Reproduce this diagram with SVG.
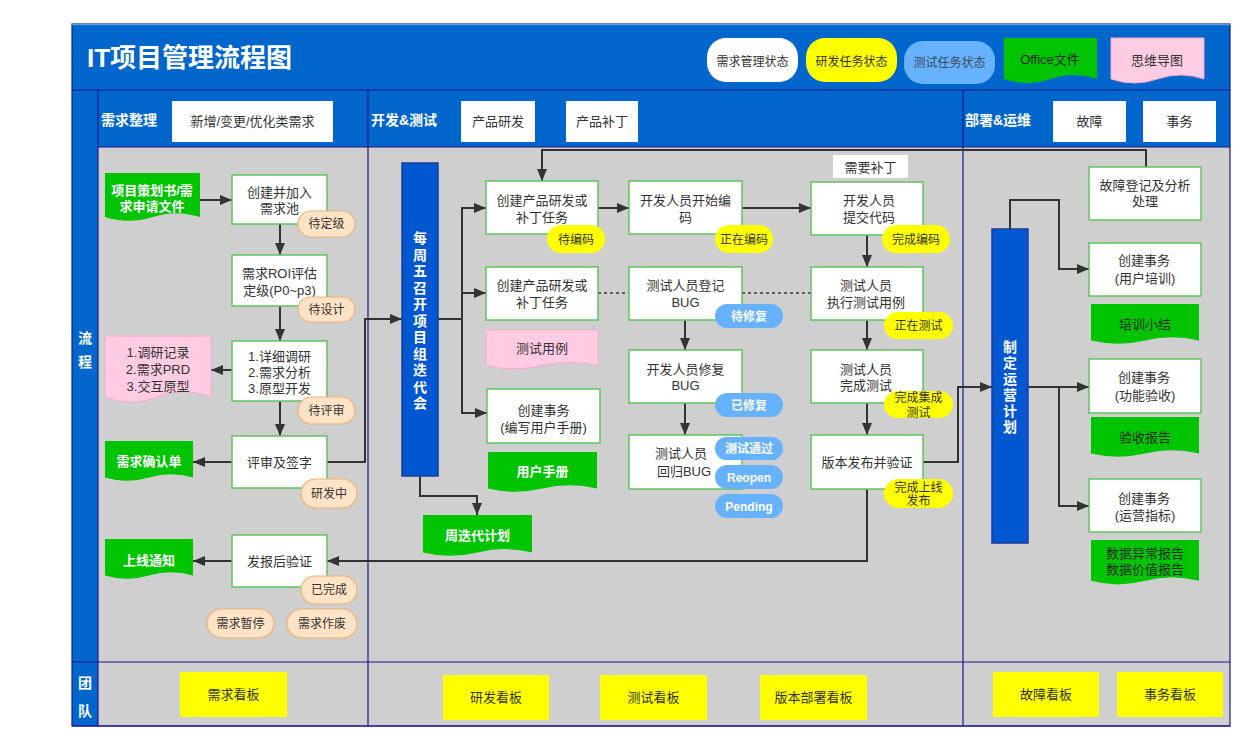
<svg xmlns="http://www.w3.org/2000/svg" width="1254" height="752" viewBox="0 0 1254 752">
<defs>
<style>
text{font-family:"Liberation Sans","Noto Sans CJK SC",sans-serif;}
.t{font-size:13px;fill:#333;text-anchor:middle}
.tw{font-size:13px;fill:#fff;font-weight:bold;text-anchor:middle}
.td{font-size:13px;fill:#1e2a1e;text-anchor:middle}
.bt{font-size:12px;fill:#333;text-anchor:middle}
.btw{font-size:12px;fill:#fff;font-weight:bold;text-anchor:middle}
.box{fill:#fff;stroke:#62C462;stroke-width:1.5}
.bo{fill:#FFE3C6;stroke:#EBB37C;stroke-width:1.2}
.by{fill:#FFFF00}
.bb{fill:#66B2FF}
.dg{fill:#00C400}
.dp{fill:#FFCCE3;stroke:#F2AACB;stroke-width:1}
.bar{fill:#0057CF;stroke:#1B3C9E;stroke-width:1.5}
.hb{fill:#fff}
.kb{fill:#FFFF00}
.c{fill:none;stroke:#333;stroke-width:2;marker-end:url(#ah)}
.cn{fill:none;stroke:#333;stroke-width:2}
.cd{fill:none;stroke:#333;stroke-width:1.6;stroke-dasharray:3 3}
.ln{stroke:#1A1A8C;stroke-width:1.2;fill:none}
.lbl{font-size:14px;font-weight:bold;fill:#fff}
.vt{font-size:14px;font-weight:bold;fill:#fff;text-anchor:middle}
</style>
<marker id="ah" markerUnits="userSpaceOnUse" markerWidth="12" markerHeight="10" refX="12" refY="5" orient="auto"><path d="M0,0 L12,5 L0,10 Z" fill="#333"/></marker>
</defs>
<rect width="1254" height="752" fill="#fff"/>
<g id="frame">
<rect x="72" y="24" width="1158" height="123" fill="#0066CC"/>
<rect x="72" y="147" width="26" height="579" fill="#0066CC"/>
<rect x="98" y="147" width="1132" height="579" fill="#CFCFCF"/>
<path class="ln" d="M72,90 H1230 M98,147 H1230 M72,662 H1230 M98,90 V726 M368,90 V726 M963,90 V726 M72,726 H1230"/>
<rect x="72" y="24" width="1158" height="702" fill="none" stroke="#1A1A8C" stroke-width="1.2"/>
<path d="M72,24.5 H1230" stroke="#5A9BE8" stroke-width="1.5"/>
<text x="87" y="67" font-size="26" font-weight="bold" fill="#fff">IT项目管理流程图</text>
<text class="vt" x="85" y="343">流</text>
<text class="vt" x="85" y="367">程</text>
<text class="vt" x="85" y="688">团</text>
<text class="vt" x="85" y="716">队</text>
</g>
<g id="legend">
<rect x="707" y="38" width="91" height="44" rx="19" fill="#fff"/>
<text class="bt" x="752.5" y="66">需求管理状态</text>
<rect x="806" y="38" width="91" height="44" rx="19" fill="#FFFF00"/>
<text class="bt" x="851.5" y="66">研发任务状态</text>
<rect x="904" y="41" width="91" height="43" rx="19" fill="#66B2FF"/>
<text class="bt" x="949.5" y="67" style="fill:#3C4A5A">测试任务状态</text>
<path class="dg" d="M1004,38 H1097 V79 Q1073.75,71 1050.5,79 T1004,79 Z"/>
<text class="td" x="1050" y="64">Office文件</text>
<path class="dp" d="M1111,38 H1204 V79 Q1180.75,71 1157.5,79 T1111,79 Z"/>
<text class="t" x="1157" y="65">思维导图</text>
</g>
<g id="lane-headers">
<text class="lbl" x="101" y="125">需求整理</text>
<rect class="hb" x="172" y="101" width="161" height="41"/>
<text class="t" x="252.5" y="126">新增/变更/优化类需求</text>
<text class="lbl" x="371" y="125">开发&amp;测试</text>
<rect class="hb" x="461" y="101" width="74" height="41"/>
<text class="t" x="498" y="126">产品研发</text>
<rect class="hb" x="566" y="101" width="72" height="41"/>
<text class="t" x="602" y="126">产品补丁</text>
<text class="lbl" x="965" y="125">部署&amp;运维</text>
<rect class="hb" x="1053" y="101" width="73" height="41"/>
<text class="t" x="1089.5" y="126">故障</text>
<rect class="hb" x="1143" y="101" width="73" height="41"/>
<text class="t" x="1179.5" y="126">事务</text>
</g>
<g id="connectors">
<path class="c" d="M200,200 H232"/>
<path class="c" d="M280,224 V255"/>
<path class="c" d="M280,306 V341"/>
<path class="c" d="M232,370 H211"/>
<path class="c" d="M280,401 V436"/>
<path class="c" d="M232,462 H193"/>
<path class="c" d="M327,462 H365 V319 H402"/>
<path class="c" d="M232,561 H193"/>
<path class="c" d="M867,489 V561 H327"/>
<path class="cn" d="M438,319 H462"/>
<path class="c" d="M462,319 V208 H486"/>
<path class="c" d="M462,293 H486"/>
<path class="c" d="M462,319 V413 H487"/>
<path class="c" d="M420,476 V496 H477 V515"/>
<path class="c" d="M1146,167 V150 H542 V181"/>
<path class="c" d="M598,208 H629"/>
<path class="c" d="M742,208 H811"/>
<path class="c" d="M867,235 V267"/>
<path class="c" d="M867,320 V350"/>
<path class="c" d="M867,403 V435"/>
<path class="c" d="M685,320 V350"/>
<path class="c" d="M685,403 V435"/>
<path class="cd" d="M598,293 H629 M742,293 H811"/>
<path class="c" d="M923,462 H958 V387 H992"/>
<path class="c" d="M1010,229 V200 H1059 V269 H1089"/>
<path class="c" d="M1028,387 H1089"/>
<path class="c" d="M1059,387 V506 H1089"/>
</g>
<g id="n-plan-doc">
<path class="dg" d="M105,173 H200 V217 Q176.25,209.4 152.5,217 T105,217 Z"/>
<text class="tw" x="152" y="195">项目策划书/需</text>
<text class="tw" x="152" y="211">求申请文件</text>
</g>
<g id="n-pool">
<rect class="box" x="232" y="175" width="95" height="49"/>
<text class="t" x="279.5" y="197">创建并加入</text>
<text class="t" x="279.5" y="213">需求池</text>
</g>
<g id="s-dingji"><rect class="bo" x="298" y="211" width="57" height="26" rx="13"/><text class="bt" x="326.5" y="228">待定级</text></g>
<g id="n-roi">
<rect class="box" x="232" y="255" width="95" height="51"/>
<text class="t" x="279.5" y="278">需求ROI评估</text>
<text class="t" x="279.5" y="295">定级(P0~p3)</text>
</g>
<g id="s-sheji"><rect class="bo" x="298" y="297" width="57" height="25" rx="12.5"/><text class="bt" x="326.5" y="313.5">待设计</text></g>
<g id="n-research">
<rect class="box" x="232" y="341" width="95" height="60"/>
<text class="t" x="279.5" y="361">1.详细调研</text>
<text class="t" x="279.5" y="377">2.需求分析</text>
<text class="t" x="279.5" y="393">3.原型开发</text>
</g>
<g id="n-research-doc">
<path class="dp" d="M105,336 H211 V397 Q184.5,386.4 158,397 T105,397 Z"/>
<text class="t" x="158" y="357">1.调研记录</text>
<text class="t" x="158" y="374">2.需求PRD</text>
<text class="t" x="158" y="390.5">3.交互原型</text>
</g>
<g id="s-pingshen"><rect class="bo" x="298" y="397" width="57" height="27" rx="13.5"/><text class="bt" x="326.5" y="415">待评审</text></g>
<g id="n-review">
<rect class="box" x="232" y="436" width="95" height="52"/>
<text class="t" x="279.5" y="467">评审及签字</text>
</g>
<g id="n-confirm-doc">
<path class="dg" d="M105,441 H193 V477.5 Q171,471 149,477.5 T105,477.5 Z"/>
<text class="tw" x="149" y="466">需求确认单</text>
</g>
<g id="s-yanfazhong"><rect class="bo" x="301" y="479" width="56" height="29" rx="14.5"/><text class="bt" x="329" y="497.5">研发中</text></g>
<g id="n-verify">
<rect class="box" x="232" y="535" width="95" height="52"/>
<text class="t" x="279.5" y="566">发报后验证</text>
</g>
<g id="n-online-doc">
<path class="dg" d="M105,539 H193 V575.5 Q171,569 149,575.5 T105,575.5 Z"/>
<text class="tw" x="149" y="564.5">上线通知</text>
</g>
<g id="s-done"><rect class="bo" x="301" y="576" width="56" height="28" rx="14"/><text class="bt" x="329" y="594">已完成</text></g>
<g id="s-pause"><rect class="bo" x="207" y="609" width="67" height="29" rx="14.5"/><text class="bt" x="240.5" y="628">需求暂停</text></g>
<g id="s-abandon"><rect class="bo" x="287" y="609" width="70" height="29" rx="14.5"/><text class="bt" x="322" y="628">需求作废</text></g>
<g id="n-iteration-bar">
<rect class="bar" x="402" y="163" width="36" height="313"/>
<text class="vt">
<tspan x="420" y="243">每</tspan><tspan x="420" y="259.5">周</tspan><tspan x="420" y="276">五</tspan><tspan x="420" y="292.5">召</tspan><tspan x="420" y="309">开</tspan><tspan x="420" y="325.5">项</tspan><tspan x="420" y="342">目</tspan><tspan x="420" y="358.5">组</tspan><tspan x="420" y="375">迭</tspan><tspan x="420" y="391.5">代</tspan><tspan x="420" y="408">会</tspan>
</text>
</g>
<g id="n-task1">
<rect class="box" x="486" y="181" width="112" height="53"/>
<text class="t" x="542" y="205">创建产品研发或</text>
<text class="t" x="542" y="222">补丁任务</text>
</g>
<g id="s-daibianma"><rect class="by" x="547" y="225" width="58" height="28" rx="14"/><text class="bt" x="576" y="243.5">待编码</text></g>
<g id="n-task2">
<rect class="box" x="486" y="267" width="112" height="53"/>
<text class="t" x="542" y="290">创建产品研发或</text>
<text class="t" x="542" y="307">补丁任务</text>
</g>
<g id="n-testcase-doc">
<path class="dp" d="M486,330 H598 V365.7 Q570,359.4 542,365.7 T486,365.7 Z"/>
<text class="t" x="542" y="352.5">测试用例</text>
</g>
<g id="n-manual">
<rect class="box" x="487" y="389" width="113" height="54"/>
<text class="t" x="543.5" y="414.5">创建事务</text>
<text class="t" x="543.5" y="432">(编写用户手册)</text>
</g>
<g id="n-manual-doc">
<path class="dg" d="M488,452 H597 V488.5 Q569.75,482.1 542.5,488.5 T488,488.5 Z"/>
<text class="tw" x="542.5" y="475.5">用户手册</text>
</g>
<g id="n-weekly-doc">
<path class="dg" d="M423,515 H532 V552.4 Q504.75,545.8 477.5,552.4 T423,552.4 Z"/>
<text class="tw" x="477.5" y="539.5">周迭代计划</text>
</g>
<g id="n-coding">
<rect class="box" x="629" y="181" width="113" height="53"/>
<text class="t" x="685.5" y="205">开发人员开始编</text>
<text class="t" x="685.5" y="222">码</text>
</g>
<g id="s-zaibianma"><rect class="by" x="715" y="225" width="58" height="28" rx="14"/><text class="bt" x="744" y="243.5">正在编码</text></g>
<g id="n-submit">
<rect class="box" x="811" y="182" width="112" height="53"/>
<text class="t" x="869" y="205">开发人员</text>
<text class="t" x="869" y="222">提交代码</text>
</g>
<g id="s-wanchengbianma"><rect class="by" x="882" y="225" width="68" height="28" rx="14"/><text class="bt" x="916" y="243.5">完成编码</text></g>
<g id="l-patch"><rect class="hb" x="833" y="155" width="75" height="23"/><text class="t" x="870.5" y="171.5">需要补丁</text></g>
<g id="n-bug-log">
<rect class="box" x="629" y="267" width="113" height="53"/>
<text class="t" x="685.5" y="290">测试人员登记</text>
<text class="t" x="685.5" y="307">BUG</text>
</g>
<g id="s-daixiufu"><rect class="bb" x="715" y="304" width="68" height="24" rx="12"/><text class="btw" x="749" y="320.5">待修复</text></g>
<g id="n-exec-test">
<rect class="box" x="811" y="267" width="112" height="53"/>
<text class="t" x="866" y="290">测试人员</text>
<text class="t" x="866" y="307">执行测试用例</text>
</g>
<g id="s-zaiceshi"><rect class="by" x="884" y="312" width="69" height="27" rx="13.5"/><text class="bt" x="918.5" y="330">正在测试</text></g>
<g id="n-bug-fix">
<rect class="box" x="629" y="350" width="113" height="53"/>
<text class="t" x="685.5" y="373.5">开发人员修复</text>
<text class="t" x="685.5" y="390">BUG</text>
</g>
<g id="s-yixiufu"><rect class="bb" x="715" y="393" width="68" height="24" rx="12"/><text class="btw" x="749" y="409.5">已修复</text></g>
<g id="n-test-done">
<rect class="box" x="811" y="350" width="112" height="53"/>
<text class="t" x="866" y="373.5">测试人员</text>
<text class="t" x="866" y="390">完成测试</text>
</g>
<g id="s-jicheng"><rect class="by" x="884" y="391" width="69" height="27" rx="13.5"/><text class="bt" x="918.5" y="402">完成集成</text><text class="bt" x="918.5" y="417">测试</text></g>
<g id="n-regress">
<rect class="box" x="629" y="435" width="113" height="54"/>
<text class="t" x="681" y="457.5">测试人员</text>
<text class="t" x="684" y="475.5">回归BUG</text>
</g>
<g id="s-pass"><rect class="bb" x="715" y="437" width="68" height="23" rx="11.5"/><text class="btw" x="749" y="452.5">测试通过</text></g>
<g id="s-reopen"><rect class="bb" x="715" y="465" width="68" height="24" rx="12"/><text class="btw" x="749" y="481.5">Reopen</text></g>
<g id="s-pending"><rect class="bb" x="715" y="494" width="68" height="24" rx="12"/><text class="btw" x="749" y="510.5">Pending</text></g>
<g id="n-release">
<rect class="box" x="811" y="435" width="112" height="54"/>
<text class="t" x="867" y="467">版本发布并验证</text>
</g>
<g id="s-online"><rect class="by" x="884" y="479" width="69" height="29" rx="14.5"/><text class="bt" x="918.5" y="491.5">完成上线</text><text class="bt" x="918.5" y="505">发布</text></g>
<g id="n-fault">
<rect class="box" x="1089" y="167" width="112" height="53"/>
<text class="t" x="1145" y="189.5">故障登记及分析</text>
<text class="t" x="1145" y="206">处理</text>
</g>
<g id="n-ops-bar">
<rect class="bar" x="992" y="229" width="36" height="314"/>
<text class="vt">
<tspan x="1010" y="352">制</tspan><tspan x="1010" y="368">定</tspan><tspan x="1010" y="384">运</tspan><tspan x="1010" y="400">营</tspan><tspan x="1010" y="416">计</tspan><tspan x="1010" y="432">划</tspan>
</text>
</g>
<g id="n-training">
<rect class="box" x="1089" y="243" width="112" height="53"/>
<text class="t" x="1144" y="265">创建事务</text>
<text class="t" x="1145" y="282.5">(用户培训)</text>
</g>
<g id="n-training-doc">
<path class="dg" d="M1091,304 H1199 V340.5 Q1172,334.1 1145,340.5 T1091,340.5 Z"/>
<text class="td" x="1145" y="328.5">培训小结</text>
</g>
<g id="n-accept">
<rect class="box" x="1089" y="359" width="112" height="54"/>
<text class="t" x="1144" y="381.5">创建事务</text>
<text class="t" x="1145" y="399.5">(功能验收)</text>
</g>
<g id="n-accept-doc">
<path class="dg" d="M1091,417 H1199 V453.5 Q1172,447.1 1145,453.5 T1091,453.5 Z"/>
<text class="td" x="1145" y="441.5">验收报告</text>
</g>
<g id="n-metrics">
<rect class="box" x="1089" y="479" width="112" height="53"/>
<text class="t" x="1144" y="502.5">创建事务</text>
<text class="t" x="1145" y="519.5">(运营指标)</text>
</g>
<g id="n-metrics-doc">
<path class="dg" d="M1091,540 H1199 V580.8 Q1172,573.6 1145,580.8 T1091,580.8 Z"/>
<text class="td" x="1145" y="557.5">数据异常报告</text>
<text class="td" x="1145" y="573.5">数据价值报告</text>
</g>
<g id="boards">
<rect class="kb" x="180" y="672" width="107" height="45"/><text class="t" x="233.5" y="699">需求看板</text>
<rect class="kb" x="443" y="675" width="106" height="45"/><text class="t" x="496" y="702">研发看板</text>
<rect class="kb" x="600" y="675" width="107" height="45"/><text class="t" x="653.5" y="702">测试看板</text>
<rect class="kb" x="760" y="675" width="107" height="45"/><text class="t" x="813.5" y="702">版本部署看板</text>
<rect class="kb" x="993" y="672" width="106" height="45"/><text class="t" x="1046" y="699">故障看板</text>
<rect class="kb" x="1117" y="672" width="106" height="45"/><text class="t" x="1170" y="699">事务看板</text>
</g>
</svg>
